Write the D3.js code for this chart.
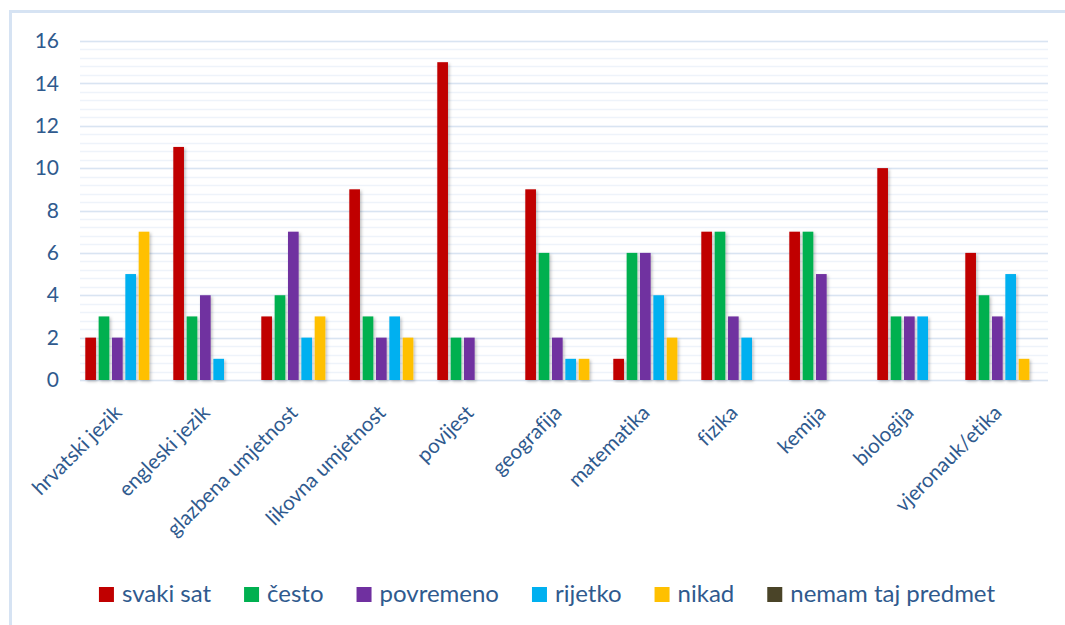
<!DOCTYPE html>
<html>
<head>
<meta charset="utf-8">
<script src="https://cdn.jsdelivr.net/npm/d3@7"></script>
<style>
  html, body { margin: 0; padding: 0; background: #fff; }
  svg { display: block; }
  text { font-family: Lato, "Open Sans", sans-serif; fill: #2F5A8E; font-variant-ligatures: none; font-feature-settings: "liga" 0; }
</style>
</head>
<body>
<svg id="chart" width="1065" height="625"></svg>
<script>
const categories = ["hrvatski jezik", "engleski jezik", "glazbena umjetnost", "likovna umjetnost", "povijest", "geografija", "matematika", "fizika", "kemija", "biologija", "vjeronauk/etika"];
const seriesNames = ["svaki sat", "često", "povremeno", "rijetko", "nikad", "nemam taj predmet"];
const seriesColors = ["#C00000", "#00B050", "#7030A0", "#00B0F0", "#FFC000", "#4A4428"];
const svakiSat   = [2, 11, 3, 9, 15, 9, 1, 7, 7, 10, 6];
const cesto      = [3, 3, 4, 3, 2, 6, 6, 7, 7, 3, 4];
const povremeno  = [2, 4, 7, 2, 2, 2, 6, 3, 5, 3, 3];
const rijetko    = [5, 1, 2, 3, 0, 1, 4, 2, 0, 3, 5];
const nikad      = [7, 0, 3, 2, 0, 1, 2, 0, 0, 0, 1];
const nemam      = [0, 0, 0, 0, 0, 0, 0, 0, 0, 0, 0];
const yTicks = [0, 2, 4, 6, 8, 10, 12, 14, 16];

const seriesValues = [svakiSat, cesto, povremeno, rijetko, nikad, nemam];

const svg = d3.select("#chart");
const W = 1065, H = 625;
const plot = { left: 80, right: 1048, top: 41, bottom: 380 };

// outer chart border (light blue)
svg.append("path")
  .attr("d", `M10.5,${H + 5} L10.5,11.5 L${W + 5},11.5`)
  .attr("fill", "none")
  .attr("stroke", "#D6E3F3")
  .attr("stroke-width", 3);

const y = d3.scaleLinear().domain([0, 16]).range([plot.bottom, plot.top]);
const x0 = d3.scaleBand().domain(categories).range([plot.left, plot.right]).paddingInner(0.09).paddingOuter(0.045);
const x1 = d3.scaleBand().domain(seriesNames).range([0, x0.bandwidth()]).paddingInner(0.2).paddingOuter(0.1);

// minor gridlines
const minor = d3.range(0, 16.001, 0.4);
svg.append("g").selectAll("line").data(minor).join("line")
  .attr("x1", plot.left).attr("x2", plot.right)
  .attr("y1", d => Math.round(y(d)) + 0.5).attr("y2", d => Math.round(y(d)) + 0.5)
  .attr("stroke", "#EEF3FA").attr("stroke-width", 1.5);

// major gridlines
svg.append("g").selectAll("line").data(yTicks).join("line")
  .attr("x1", plot.left).attr("x2", plot.right)
  .attr("y1", d => Math.round(y(d)) + 0.5).attr("y2", d => Math.round(y(d)) + 0.5)
  .attr("stroke", "#D9E4F2").attr("stroke-width", 1.5);

// y axis labels
const yAxis = d3.axisLeft(y).tickValues(yTicks).tickSize(0).tickPadding(0);
const yg = svg.append("g").attr("transform", `translate(59,0)`).call(yAxis);
yg.select(".domain").remove();
yg.selectAll("text").attr("font-size", 21).attr("font-family", "Lato, sans-serif").attr("fill", "#2F5A8E");

// shadow filter
const defs = svg.append("defs");
const f = defs.append("filter").attr("id", "sh").attr("x", "-50%").attr("y", "-10%").attr("width", "200%").attr("height", "120%");
f.append("feDropShadow").attr("dx", 1.5).attr("dy", 1.5).attr("stdDeviation", 1.5).attr("flood-color", "#000").attr("flood-opacity", 0.25);

// bars
const groups = svg.append("g").selectAll("g").data(categories).join("g")
  .attr("transform", d => `translate(${x0(d)},0)`);
groups.selectAll("rect")
  .data((c, ci) => seriesNames.map((s, si) => ({ s, si, v: seriesValues[si][ci] })).filter(d => d.v > 0))
  .join("rect")
  .attr("x", d => x1(d.s))
  .attr("width", x1.bandwidth())
  .attr("y", d => y(d.v))
  .attr("height", d => y(0) - y(d.v))
  .attr("fill", d => seriesColors[d.si])
  .attr("filter", "url(#sh)");

// x axis labels
const xl = svg.append("g");
xl.selectAll("text").data(categories).join("text")
  .attr("transform", d => `translate(${x0(d) + x0.bandwidth() / 2 - 1},414) rotate(-45)`)
  .attr("text-anchor", "end")
  .attr("font-size", 20.5)
  .text(d => d);

// legend
const leg = svg.append("g");
const items = leg.selectAll("g").data(seriesNames).join("g");
items.append("rect").attr("width", 15).attr("height", 15).attr("y", -15)
  .attr("fill", (d, i) => seriesColors[i]);
items.append("text").attr("x", 23).attr("y", 0).attr("font-size", 24).text(d => d);
let widths = [];
items.each(function () { widths.push(this.querySelector("text").getComputedTextLength()); });
const gap = 33;
let total = 0;
widths.forEach((w, i) => { total += 23 + w + (i < widths.length - 1 ? gap : 0); });
let cx = 547 - total / 2;
items.attr("transform", (d, i) => {
  const t = `translate(${cx},602)`;
  cx += 23 + widths[i] + gap;
  return t;
});
</script>
</body>
</html>
